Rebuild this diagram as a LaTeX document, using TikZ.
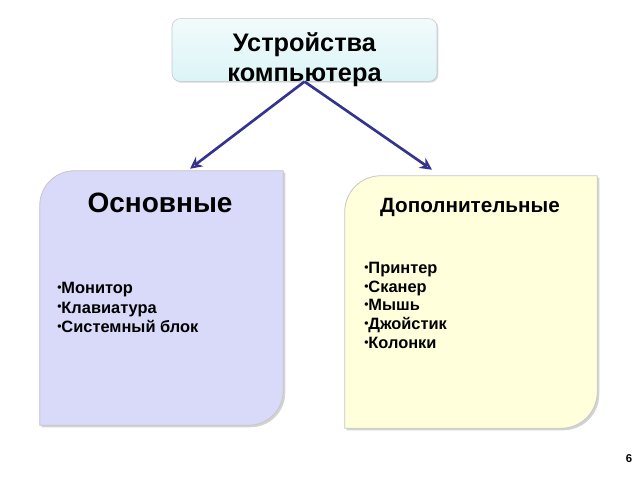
\documentclass[tikz,border=0pt]{standalone}
\usepackage{fontspec}
\setmainfont{Liberation Sans}
\usetikzlibrary{arrows.meta, shadows}

\definecolor{linkblue}{HTML}{34348F}
\definecolor{lilac}{HTML}{D9D9F9}
\definecolor{paleyellow}{HTML}{FFFFDC}
\definecolor{palecyan}{HTML}{DCF4F7}

\newcommand{\dotitem}{{\fontsize{9}{9}\selectfont\raisebox{0.35ex}{•}}}

\begin{document}
\begin{tikzpicture}[x=0.75pt, y=-0.75pt,
    holder/.style={inner sep=0pt, minimum width=#1},
    diagbox/.style={draw=gray!45, line width=0.6pt,
        drop shadow={shadow xshift=1.5pt, shadow yshift=-1.5pt, opacity=0.35}},
    link/.style={draw=linkblue, line width=2pt, -{Stealth[open, length=9pt, width=9pt]}},
    itemlist/.style={anchor=north west, inner sep=0pt, align=left,
        font=\bfseries\fontsize{12.3}{#1}\selectfont}
]
    \useasboundingbox (0,0) rectangle (640,480);

    % top box
    \node[holder=198.75pt, minimum height=47pt, rounded corners=6pt, draw=gray!45,
          top color=white!60!palecyan, bottom color=palecyan,
          drop shadow={shadow xshift=1pt, shadow yshift=-1pt, opacity=0.3}] (top) at (304.5,50) {};
    \node[align=center, font=\bfseries\fontsize{19}{22.5}\selectfont] (title) at (304.5,60) {Устройства\\компьютера};

    % lower boxes
    \node[holder=182.25pt, minimum height=190.5pt] (osn) at (161.5,298) {};
    \node[holder=189pt, minimum height=189pt] (dop) at (471,302) {};

    \draw[diagbox, fill=lilac] (osn.west) [rounded corners=26pt] -- (osn.north west) -- (osn.north)
        [sharp corners] -- (osn.north east) -- (osn.east)
        [rounded corners=26pt] -- (osn.south east) -- (osn.south)
        [sharp corners] -- (osn.south west) -- cycle;
    \draw[diagbox, fill=paleyellow] (dop.west) [rounded corners=27pt] -- (dop.north west) -- (dop.north)
        [sharp corners] -- (dop.north east) -- (dop.east)
        [rounded corners=27pt] -- (dop.south east) -- (dop.south)
        [sharp corners] -- (dop.south west) -- cycle;

    \draw[link] (top.south) -- ([xshift=21.4pt, yshift=1.5pt]osn.north);
    \draw[link] (top.south) -- ([xshift=-29.25pt, yshift=4.5pt]dop.north);

    \node[font=\bfseries\fontsize{21}{25}\selectfont] (osnlabel) at (160,203) {Основные};
    \node[font=\bfseries\fontsize{15.5}{18}\selectfont] (doplabel) at (470,207) {Дополнительные};

    \node[itemlist=14.6pt] (osnlist) at (57,282) {\dotitem Монитор\\\dotitem Клавиатура\\\dotitem Системный блок};
    \node[itemlist=14pt] (doplist) at (364,262) {\dotitem Принтер\\\dotitem Сканер\\\dotitem Мышь\\\dotitem Джойстик\\\dotitem Колонки};

    \node[font=\bfseries\fontsize{8.5}{10}\selectfont] (page) at (629,459) {6};
\end{tikzpicture}
\end{document}
